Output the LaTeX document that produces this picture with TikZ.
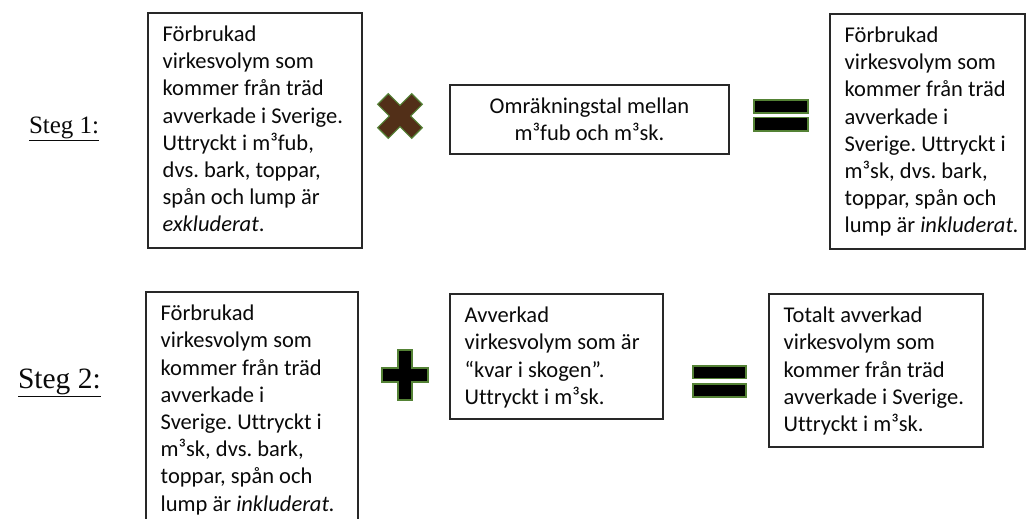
\documentclass[tikz,border=0pt]{standalone}
\usepackage{fontspec}
\setmainfont{Carlito}[Ligatures=NoCommon]
\newfontfamily\stegfont{Liberation Serif}
\usetikzlibrary{calc}
\frenchspacing
\definecolor{boxline}{RGB}{40,40,40}
\definecolor{txtc}{RGB}{10,10,10}
\definecolor{crossbrown}{RGB}{82,47,24}
\definecolor{symgreen}{RGB}{84,130,53}
\begin{document}
\begin{tikzpicture}[x=1pt,y=-1pt,
  boxs/.style={draw=boxline, line width=1.5pt, rectangle, inner sep=0pt, outer sep=0pt, anchor=north west},
  txt/.style={inner sep=0pt, outer sep=0pt, text=txtc, anchor=base west, font=\frenchspacing\fontsize{22.5}{27.2}\selectfont},
  steglabel/.style={inner sep=0pt, outer sep=0pt, anchor=base west, text=txtc},
  sym/.style={draw=symgreen, line width=1.2pt, line join=miter}]
\useasboundingbox[fill=white] (0,0) rectangle (1028,519);
\clip (0,0) rectangle (1028,519);

% Step labels
\node[steglabel, font=\stegfont\fontsize{25}{29}\selectfont] (s1) at (29,133) {\underline{Steg 1:}};
\node[steglabel, font=\stegfont\fontsize{29.5}{34}\selectfont] (s2) at (18,388) {\underline{Steg 2:}};

% Boxes
\node[boxs, minimum width=214pt, minimum height=235pt] (b1) at (148,13) {};
\node[boxs, minimum width=279pt, minimum height=69pt] (b2) at (450,85) {};
\node[boxs, minimum width=195pt, minimum height=235pt] (b3) at (830,14) {};
\node[boxs, minimum width=212pt, minimum height=240pt] (b4) at (146,292) {};
\node[boxs, minimum width=213pt, minimum height=125pt] (b5) at (450,294) {};
\node[boxs, minimum width=214pt, minimum height=153pt] (b6) at (769,294) {};

% Texts
\node[txt] (t1) at ($(b1.north west)+(14.7,28.6)$) {\parbox[t]{200pt}{\raggedright
Förbrukad\\virkesvolym som\\kommer från träd\\avverkade i Sverige.\\Uttryckt i m³fub,\\dvs. bark, toppar,\\spån och lump är\\\textit{exkluderat}.}};
\node[txt, anchor=base] (t2) at ($(b2.north)+(0,28)$) {\parbox[t]{270pt}{\centering
Omräkningstal mellan\\m³fub och m³sk.}};
\node[txt] (t3) at ($(b3.north west)+(14.7,28.6)$) {\parbox[t]{190pt}{\raggedright
Förbrukad\\virkesvolym som\\kommer från träd\\avverkade i\\Sverige. Uttryckt i\\m³sk, dvs. bark,\\toppar, spån och\\lump är \textit{inkluderat.}}};
\node[txt] (t4) at ($(b4.north west)+(14.7,28.6)$) {\parbox[t]{200pt}{\raggedright
Förbrukad\\virkesvolym som\\kommer från träd\\avverkade i\\Sverige. Uttryckt i\\m³sk, dvs. bark,\\toppar, spån och\\lump är \textit{inkluderat.}}};
\node[txt] (t5) at ($(b5.north west)+(14.7,28.6)$) {\parbox[t]{200pt}{\raggedright
Avverkad\\virkesvolym som är\\“kvar i skogen”.\\Uttryckt i m³sk.}};
\node[txt] (t6) at ($(b6.north west)+(14.7,28.6)$) {\parbox[t]{200pt}{\raggedright
Totalt avverkad\\virkesvolym som\\kommer från träd\\avverkade i Sverige.\\Uttryckt i m³sk.}};

% Multiply sign
\begin{scope}[shift={(400,116)}, rotate=45]
\draw[sym, fill=crossbrown] (7.5,24) -- (7.5,7.5) -- (24,7.5) -- (24,-7.5) -- (7.5,-7.5) -- (7.5,-24) -- (-7.5,-24) -- (-7.5,-7.5) -- (-24,-7.5) -- (-24,7.5) -- (-7.5,7.5) -- (-7.5,24) -- cycle;
\end{scope}

% Plus sign
\begin{scope}[shift={(405,375)}]
\draw[sym, fill=black] (7,25) -- (7,7) -- (23,7) -- (23,-7) -- (7,-7) -- (7,-25) -- (-7,-25) -- (-7,-7) -- (-23,-7) -- (-23,7) -- (-7,7) -- (-7,25) -- cycle;
\end{scope}

% Equals signs
\draw[sym, fill=black] (754,100) rectangle (808,113);
\draw[sym, fill=black] (754,117.5) rectangle (808,131);
\draw[sym, fill=black] (693,366) rectangle (746,378.5);
\draw[sym, fill=black] (693,384) rectangle (746,397);
\end{tikzpicture}
\end{document}
